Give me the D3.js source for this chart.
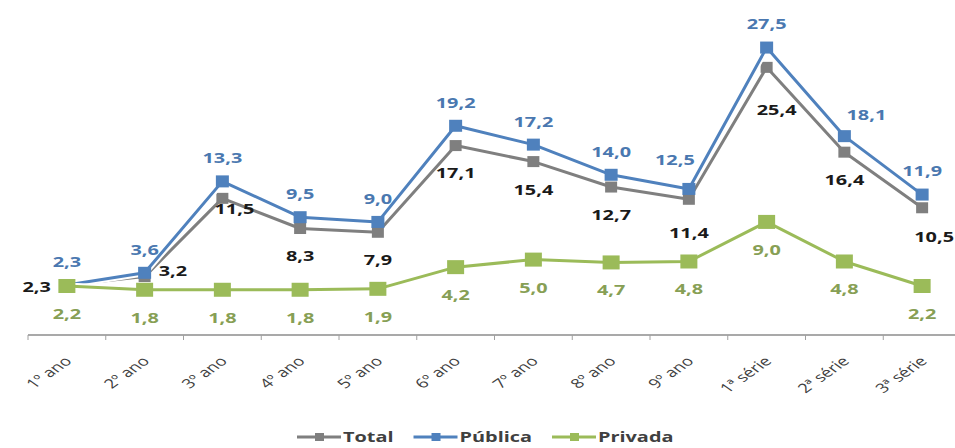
<!DOCTYPE html>
<html>
<head>
<meta charset="utf-8">
<script src="https://cdn.jsdelivr.net/npm/d3@7"></script>
<style>
  body { margin: 0; background: #fff; }
  text { font-family: "Open Sans", sans-serif; }
</style>
</head>
<body>
<div id="chart"></div>
<script>
const categories = ["1º ano", "2º ano", "3º ano", "4º ano", "5º ano", "6º ano", "7º ano", "8º ano", "9º ano", "1ª série", "2ª série", "3ª série"]
const total = [2.3, 3.2, 11.5, 8.3, 7.9, 17.1, 15.4, 12.7, 11.4, 25.4, 16.4, 10.5]
const publica = [2.3, 3.6, 13.3, 9.5, 9.0, 19.2, 17.2, 14.0, 12.5, 27.5, 18.1, 11.9]
const privada = [2.2, 1.8, 1.8, 1.8, 1.9, 4.2, 5.0, 4.7, 4.8, 9.0, 4.8, 2.2]
const seriesNames = ["Total", "Pública", "Privada"]

// where each data label sits relative to its point
const totalLabelPos = ["left", "right", "belowRight", "below", "below", "below", "below", "below", "belowLow", "belowFar", "below", "belowShift"]
const publicaLabelPos = ["above", "above", "above", "above", "above", "above", "above", "above", "aboveLeft", "above", "aboveRight", "above"]
const privadaLabelPos = privada.map(() => "below")

const width = 955, height = 448
const stretch = 1.42   // the original picture is widened, so is its text

const svg = d3.select("#chart").append("svg")
    .attr("width", width)
    .attr("height", height)

const x = d3.scaleBand().domain(categories).range([28, 961]).padding(0)
const y = d3.scaleLinear().domain([-3, 30]).range([335, 24])
const cx = c => x(c) + x.bandwidth() / 2

const series = [
    { name: seriesNames[0], values: total, color: "#7f7f7f", text: "#1a1a1a", pos: totalLabelPos, mw: 12, mh: 11 },
    { name: seriesNames[1], values: publica, color: "#4f81bd", text: "#4a78b0", pos: publicaLabelPos, mw: 13, mh: 12 },
    { name: seriesNames[2], values: privada, color: "#9bbb59", text: "#879f55", pos: privadaLabelPos, mw: 17, mh: 14 }
]

const offsets = {
    above: [0, -23, "middle"],
    aboveLeft: [-14, -29, "middle"],
    aboveRight: [22, -21, "middle"],
    below: [0, 28, "middle"],
    belowLow: [0, 34, "middle"],
    belowFar: [10, 43, "middle"],
    belowRight: [12, 11, "middle"],
    belowShift: [12, 29, "middle"],
    left: [-16, 2, "end"],
    right: [14, -5, "start"]
}

// x axis: line at the bottom, ticks on band edges, rotated labels
const axis = svg.append("g").attr("transform", "translate(0," + y(-3) + ")")
axis.append("line")
    .attr("x1", 28).attr("x2", width)
    .attr("stroke", "#8c8c8c").attr("stroke-width", 1.5)
axis.selectAll(".tk").data(categories).enter().append("line")
    .attr("x1", d => x(d)).attr("x2", d => x(d))
    .attr("y1", 0).attr("y2", 5)
    .attr("stroke", "#a0a0a0")
axis.selectAll(".lbl").data(categories).enter().append("text")
    .attr("transform", d => "translate(" + (cx(d) + 6) + ",27) scale(" + stretch + ",1) rotate(-45)")
    .attr("text-anchor", "end")
    .attr("font-size", 13)
    .attr("fill", "#404040")
    .text(d => d)

const line = d3.line()
    .x((d, i) => cx(categories[i]))
    .y(d => y(d))

series.forEach(s => {
    const g = svg.append("g")
    g.append("path")
        .attr("d", line(s.values))
        .attr("fill", "none")
        .attr("stroke", "#fff")
        .attr("stroke-width", 7)
        .attr("stroke-linejoin", "round")
    g.append("path")
        .attr("d", line(s.values))
        .attr("fill", "none")
        .attr("stroke", s.color)
        .attr("stroke-width", 3)
        .attr("stroke-linejoin", "round")
    g.selectAll("rect").data(s.values).enter().append("rect")
        .attr("x", (d, i) => cx(categories[i]) - s.mw / 2)
        .attr("y", d => y(d) - s.mh / 2)
        .attr("width", s.mw)
        .attr("height", s.mh)
        .attr("fill", s.color)
})

// data labels on top
series.forEach(s => {
    svg.append("g").selectAll("text").data(s.values).enter().append("text")
        .attr("transform", (d, i) => {
            const o = offsets[s.pos[i]]
            return "translate(" + (cx(categories[i]) + o[0]) + "," + (y(d) + o[1]) + ") scale(" + stretch + ",1)"
        })
        .attr("text-anchor", (d, i) => offsets[s.pos[i]][2])
        .attr("dy", "0.35em")
        .attr("font-size", 14)
        .attr("font-weight", "bold")
        .attr("fill", s.text)
        .text(d => d.toFixed(1).replace(".", ","))
})

// legend
const legend = svg.append("g").attr("transform", "translate(297,437)")
let lx = 0
series.forEach(s => {
    const item = legend.append("g").attr("transform", "translate(" + lx + ",0)")
    item.append("line")
        .attr("x1", 0).attr("x2", 44)
        .attr("stroke", s.color).attr("stroke-width", 3)
    item.append("rect")
        .attr("x", 18).attr("y", -4)
        .attr("width", 9).attr("height", 8)
        .attr("fill", s.color)
    const t = item.append("text")
        .attr("transform", "translate(46,0) scale(" + stretch + ",1)")
        .attr("dy", "0.35em")
        .attr("font-size", 14)
        .attr("font-weight", "bold")
        .attr("fill", "#404040")
        .text(s.name)
    lx += 46 + t.node().getComputedTextLength() * stretch + 20
})
</script>
</body>
</html>
